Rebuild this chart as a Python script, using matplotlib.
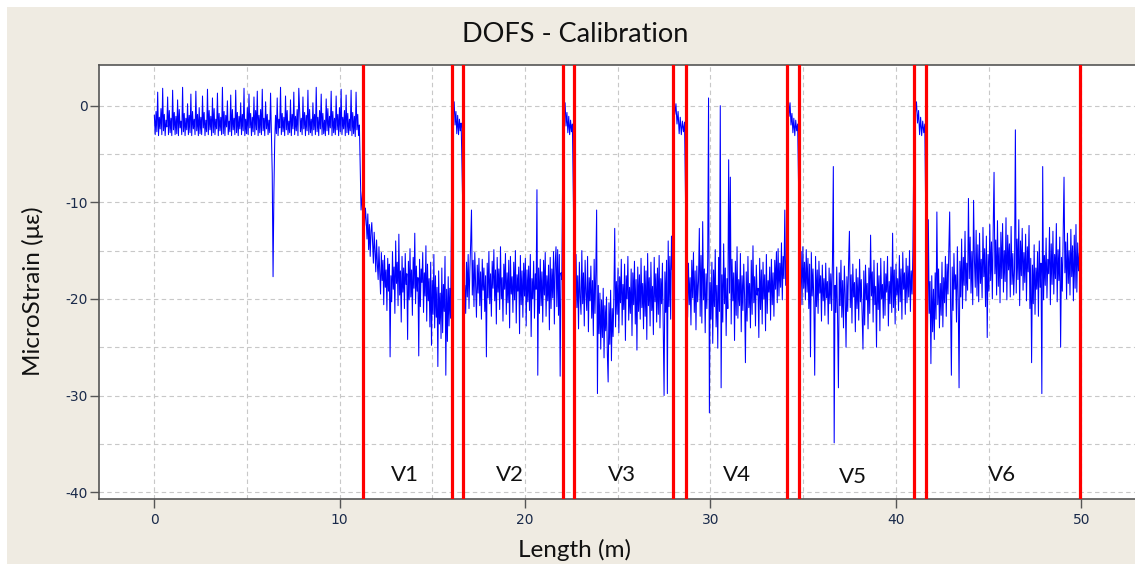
import numpy as np
import matplotlib
matplotlib.use("Agg")
import matplotlib.pyplot as plt
from matplotlib.patches import Rectangle
from matplotlib.ticker import MultipleLocator

plt.rcParams['axes.unicode_minus'] = False

title = "DOFS - Calibration"
x_label = "Length (m)"
y_label = "MicroStrain (με)"

# fibre sections (m): start / end of each measured stretch
seg_start = [0.0, 11.30, 16.08, 16.66, 22.06, 22.66, 28.02, 28.72, 34.19, 34.80, 41.00, 41.66]
seg_end = [11.15, 15.98, 16.55, 21.98, 22.55, 27.94, 28.60, 34.10, 34.70, 40.92, 41.56, 49.90]

strain_base = [
    -1.0, -3.0, -0.6, -2.7, 1.4, -3.1, -1.2, -2.4, -0.3, -3.0, 1.8, -2.6, -0.9, -3.1, -1.5, -2.2, 0.9, -3.0, -0.5, -2.8, -1.3, -3.1, 1.6, -2.5, -0.7,
    -3.0, -1.1, -2.9, 0.6, -3.1, -0.4, -2.3, -1.6, -3.0, 1.9, -2.7, -0.8, -3.1, -1.3, -2.5, 0.2, -3.0, -1.0, -2.8, 1.2, -3.1, -0.6, -2.4, -1.4, -3.0,
    1.5, -2.6, -0.9, -3.1, -0.2, -2.9, -1.2, -3.0, 1.0, -2.3, -0.7, -3.1, -1.5, -2.7, 1.7, -3.0, -0.5, -2.5, -1.1, -3.1, 0.8, -2.8, -0.3, -3.0, -1.4,
    -2.4, 1.3, -3.1, -0.8, -2.6, -1.2, -3.0, 1.9, -2.9, -0.6, -3.1, -1.0, -2.2, 0.5, -3.0, -1.6, -2.7, 1.1, -3.1, -0.4, -2.5, -1.3, -3.0, 1.6, -2.8,
    -0.7, -3.1, -1.1, -2.4, 0.3, -3.0, -0.9, -2.6, 1.8, -3.1, -1.4, -2.9, -0.2, -3.0, 1.2, -2.3, -0.8, -3.1, -1.2, -2.7, 0.9, -3.0, -0.5, -2.5, 1.5,
    -3.1, -1.0, -2.8, -0.4, -3.0, 1.7, -2.6, -1.3, -3.1, 0.4, -2.4, -0.9, -3.0, -1.5, -2.8, 1.3, -3.1, -7.0, -17.7, -9.0, -3.6, -1.0, -2.9, 0.8, -3.1,
    -1.4, -2.3, 1.9, -3.0, -0.8, -2.7, -1.2, -3.1, 1.0, -2.5, -0.5, -3.0, -1.6, -2.8, 0.6, -3.1, -0.9, -2.4, 1.4, -3.0, -1.1, -2.6, -0.4, -3.1, 1.8,
    -0.6, -2.7, -1.3, -3.0, 0.9, -2.4, -0.7, -3.1, -1.0, -2.6, 1.6, -3.0, -0.4, -2.8, -1.4, -3.1, 0.3, -2.5, -0.9, -3.0, 1.9, -2.7, -1.2, -3.1, -0.5,
    -2.4, 1.2, -3.0, -0.8, -2.9, -1.5, -3.1, 0.7, -2.6, -0.3, -3.0, -1.1, -2.3, 1.5, -3.1, -0.6, -2.8, -1.3, -3.0, 1.0, -2.5, -0.9, -3.1, -0.2, -2.7,
    1.7, -3.0, -1.2, -2.4, -0.5, -3.1, 1.1, -2.8, -0.8, -3.0, -1.4, -2.6, 1.6, -3.1, -0.7, -2.9, -1.1, -3.2, 1.4, -2.5, -0.9, -3.1, -2.0, -6.3, -10.8,
]
strain_v1 = [
    -7.0, -12.4, -10.6, -11.9, -13.8, -11.2, -14.9, -12.3, -15.6, -13.0,
    -12.1, -14.2, -16.3, -13.1, -15.0, -17.2, -13.9, -16.4, -18.0, -14.6,
    -17.3, -19.5, -15.2, -18.1, -16.0, -20.6, -15.5, -18.8, -17.0, -21.2,
    -15.8, -19.2, -16.4, -26.0, -17.6, -20.3, -15.1, -19.0, -16.7, -21.5,
    -14.0, -18.4, -16.2, -20.7, -13.3, -19.6, -17.1, -22.4, -15.6, -19.3,
    -16.8, -21.0, -15.3, -18.5, -17.4, -24.2, -16.1, -20.1, -14.8, -19.8,
    -17.0, -21.7, -15.7, -18.9, -13.2, -20.5, -16.6, -19.2, -17.8, -25.9,
    -15.9, -20.8, -16.9, -18.3, -15.2, -21.4, -17.3, -19.7, -14.5, -22.3,
    -16.4, -20.2, -17.9, -22.9, -16.2, -24.8, -18.1, -21.6, -15.4, -23.0,
    -17.6, -21.9, -18.8, -27.0, -17.1, -22.6, -19.4, -24.1, -16.8, -23.5,
    -18.5, -21.3, -15.6, -27.9, -19.0, -24.4, -17.7, -22.8, -18.9, -22.0,
]
strain_s1 = [1.3, -1.2, 0.4, -2.0, -0.6, -2.9, -1.0, -3.0, -1.4, -2.6, -1.8]
strain_v2 = [
    -12.9, -20.4, -18.6, -21.5, -16.2, -19.8, -15.4, -21.0, -17.1, -14.3,
    -10.8, -19.6, -16.0, -20.8, -15.2, -18.7, -21.9, -16.5, -19.4, -15.8,
    -20.7, -17.2, -22.1, -15.9, -19.1, -16.8, -21.3, -17.6, -26.0, -16.3,
    -19.9, -15.1, -20.5, -17.4, -21.8, -16.1, -18.9, -14.9, -20.2, -17.0,
    -22.6, -15.7, -19.3, -16.9, -21.1, -14.6, -20.0, -17.8, -22.3, -16.4,
    -19.0, -15.3, -21.6, -17.3, -20.4, -16.0, -23.0, -15.6, -19.5, -17.7,
    -21.4, -16.2, -20.1, -15.0, -22.5, -17.5, -19.2, -16.7, -23.6, -15.5,
    -20.6, -17.1, -21.9, -16.3, -19.7, -15.8, -22.8, -17.0, -20.3, -16.6,
    -21.2, -15.4, -23.9, -17.9, -20.0, -16.1, -22.0, -17.4, -19.0, -8.7,
    -27.9, -16.8, -21.5, -15.9, -20.7, -17.2, -22.4, -16.0, -19.6, -15.2,
    -21.8, -17.6, -20.2, -16.5, -23.2, -15.7, -21.0, -16.9, -19.9, -15.1,
    -22.6, -16.3, -14.6, -20.8, -14.9, -21.7, -15.4, -28.0, -17.3, -18.0,
]
strain_s2 = [1.2, -1.0, 0.3, -2.1, -0.7, -2.8, -1.1, -3.0, -1.5, -2.7, -1.9]
strain_v3 = [
    -18.0, -22.3, -15.4, -20.9, -17.6, -23.1, -16.2, -19.8, -21.6, -15.0,
    -20.5, -17.3, -22.8, -16.0, -19.4, -21.2, -15.6, -23.4, -17.8, -20.2,
    -16.6, -22.0, -18.1, -23.8, -15.9, -21.5, -17.2, -10.8, -29.8, -18.6,
    -23.6, -19.4, -25.2, -20.1, -24.0, -18.9, -26.1, -20.7, -23.3, -19.8,
    -25.6, -28.6, -20.4, -24.7, -19.1, -26.4, -21.0, -23.9, -19.6, -12.7,
    -22.9, -18.2, -21.6, -16.8, -23.5, -17.7, -20.4, -15.9, -22.7, -18.5,
    -21.1, -16.4, -24.3, -17.6, -20.0, -15.6, -22.2, -18.8, -21.5, -16.9,
    -23.8, -17.3, -20.6, -16.1, -22.6, -18.0, -25.3, -16.7, -21.3, -17.5,
    -22.1, -15.8, -20.9, -18.4, -23.1, -16.6, -21.8, -17.1, -24.2, -15.3,
    -20.7, -17.8, -22.8, -16.2, -21.2, -18.7, -23.7, -15.7, -20.3, -17.4,
    -22.4, -16.8, -21.6, -15.5, -23.0, -17.9, -20.5, -16.3, -22.9, -30.0,
    -17.2, -21.4, -16.0, -29.8, -14.0, -20.8, -15.6, -22.1, -13.5, -17.0,
]
strain_s3 = [1.3, -0.9, 0.2, -1.9, -0.6, -2.9, -1.2, -3.0, -1.6, -2.7, -1.7]
strain_v4 = [
    -19.5, -21.9, -16.3, -20.6, -17.8, -22.7, -16.0, -19.9, -15.2, -21.4,
    -17.1, -23.2, -16.6, -20.3, -18.2, -12.7, -21.8, -15.5, -22.5, -12.0,
    -20.1, -16.9, -23.5, -17.4, -21.0, -15.8, 0.8, -31.8, -18.3, -22.1,
    -16.2, -24.6, -17.0, -20.8, -14.9, -22.9, -18.6, -25.1, -15.7, -21.3,
    0.0, -29.2, -17.5, -22.4, -14.3, -20.5, -16.8, -23.8, -17.9, -21.0,
    -5.6, -19.4, -7.4, -22.6, -15.9, -20.2, -17.3, -24.3, -16.1, -21.7,
    -14.6, -22.0, -18.0, -20.7, -15.3, -23.4, -17.6, -21.2, -16.4, -19.8,
    -26.6, -17.2, -22.3, -15.6, -20.9, -18.4, -23.0, -16.0, -21.6, -14.5,
    -20.4, -17.7, -22.8, -16.5, -19.6, -18.9, -24.0, -15.8, -21.1, -17.0,
    -22.6, -16.2, -20.0, -17.5, -23.3, -15.4, -21.5, -18.1, -19.3, -16.7,
    -22.2, -15.9, -20.6, -17.3, -21.8, -16.0, -19.0, -15.1, -20.4, -14.8,
    -19.7, -16.3, -18.8, -14.2, -20.1, -15.6, -17.9, -10.8, -18.6, -15.9,
]
strain_s4 = [1.3, -1.1, 0.3, -2.0, -0.8, -2.8, -1.3, -3.1, -1.5, -2.6, -1.9]
strain_v5 = [
    -14.2, -19.8, -15.1, -20.6, -14.6, -18.9, -16.2, -20.1, -14.9, -19.3,
    -15.8, -21.0, -16.4, -26.0, -15.2, -19.7, -16.9, -20.4, -27.9, -15.6,
    -20.8, -17.0, -21.5, -16.1, -19.4, -17.6, -22.3, -16.5, -20.2, -17.9,
    -21.7, -16.3, -19.9, -18.2, -22.6, -16.8, -20.5, -17.4, -21.2, -15.9,
    -6.3, -34.9, -18.6, -21.4, -16.7, -22.0, -29.2, -17.3, -20.7, -16.0,
    -21.9, -18.1, -23.0, -16.6, -19.5, -25.0, -17.7, -21.3, -16.2, -13.0,
    -20.9, -17.5, -22.5, -16.4, -19.8, -18.3, -23.4, -16.9, -21.0, -17.8,
    -22.2, -15.9, -20.3, -18.0, -21.8, -25.2, -17.1, -22.7, -16.5, -20.1,
    -18.4, -23.1, -16.8, -21.5, -13.4, -19.7, -17.2, -22.4, -16.0, -20.6,
    -18.7, -25.0, -16.3, -21.1, -17.6, -23.3, -15.8, -20.0, -18.5, -22.0,
    -16.1, -21.7, -17.4, -19.3, -15.6, -22.8, -18.2, -20.5, -16.7, -21.4,
    -13.2, -20.9, -17.0, -22.6, -16.4, -19.6, -17.9, -21.2, -15.5, -20.3,
    -16.9, -22.1, -15.2, -19.0, -17.3, -21.6, -15.8, -20.4, -16.6, -19.8,
    -15.0, -21.3, -17.1, -19.5, -14.8,
]
strain_s5 = [1.4, -0.8, 0.4, -1.8, -0.5, -3.0, -1.2, -3.1, -1.6, -2.8, -1.9]
strain_v6 = [
    -20.1, -23.8, -11.8, -21.5, -18.2, -26.7, -17.6, -23.4, -19.0, -24.2,
    -17.3, -22.1, -11.0, -20.6, -16.9, -23.0, -18.4, -21.7, -16.2, -22.9,
    -17.8, -20.4, -15.6, -21.8, -16.4, -19.5, -14.9, -11.0, -20.3, -27.9,
    -16.7, -21.2, -15.3, -19.0, -17.5, -22.4, -14.6, -20.0, -29.2, -16.1,
    -19.8, -13.8, -21.0, -15.7, -18.6, -13.0, -20.2, -16.3, -19.1, -9.6,
    -17.9, -13.6, -19.4, -15.1, -20.6, -9.8, -16.0, -18.8, -12.9, -19.7,
    -14.4, -20.3, -13.2, -18.4, -15.9, -19.9, -12.6, -17.7, -14.8, -20.8,
    -13.5, -24.0, -15.4, -19.2, -12.3, -18.1, -14.1, -20.0, -12.8, -6.9,
    -17.4, -13.9, -19.6, -11.9, -18.7, -14.7, -20.4, -13.1, -17.9, -12.2,
    -19.3, -15.0, -18.2, -11.6, -20.1, -13.4, -17.0, -14.3, -19.8, -12.5,
    -18.5, -15.3, -19.6, -16.9, -2.5, -19.4, -13.8, -18.0, -11.8, -20.7,
    -14.0, -17.6, -12.7, -19.1, -15.2, -18.3, -13.3, -20.2, -14.6, -17.2,
    -12.4, -21.0, -15.8, -26.6, -16.5, -20.5, -14.4, -21.6, -16.8, -19.0,
    -15.1, -21.8, -14.0, -18.8, -16.3, -29.8, -6.3, -20.1, -15.5, -18.6,
    -13.7, -19.9, -15.9, -17.4, -12.6, -20.6, -14.3, -18.5, -13.0, -19.5,
    -15.4, -17.9, -12.2, -20.3, -14.9, -18.1, -13.6, -25.0, -15.7, -19.2,
    -12.9, -7.4, -17.3, -14.1, -20.0, -13.2, -18.4, -15.0, -19.6, -12.8,
    -17.7, -14.5, -20.2, -13.4, -18.9, -12.3, -19.3, -14.2, -17.1, -15.3,
]
segments = [strain_base, strain_v1, strain_s1, strain_v2, strain_s2, strain_v3,
            strain_s3, strain_v4, strain_s4, strain_v5, strain_s5, strain_v6]

# red section boundaries (m)
boundaries = [11.27, 16.04, 16.63, 22.02, 22.62, 27.98, 28.68, 34.15, 34.77, 40.97, 41.62, 49.93]
zone_names = ["V1", "V2", "V3", "V4", "V5", "V6"]
zone_x = [13.5, 19.2, 25.2, 31.4, 37.7, 45.7]
zone_y = [-38.2, -38.2, -38.2, -38.2, -38.4, -38.2]

length = np.concatenate([np.linspace(s, e, len(v)) for s, e, v in zip(seg_start, seg_end, segments)])
strain = np.concatenate([np.asarray(v, dtype=float) for v in segments])

W, H = 1135, 564
fig = plt.figure(figsize=(W / 100, H / 100), dpi=100, facecolor='white')
fig.patches.append(Rectangle((7 / W, 0), 1, (H - 7) / H, transform=fig.transFigure,
                             facecolor='#EFEBE2', edgecolor='none', zorder=-10))

left, right, top, bottom = 99.3, 1135, 65, 499
ax = fig.add_axes([left / W, (H - bottom) / H, (right - left) / W, (bottom - top) / H])
ax.set_facecolor('white')
ax.set_xlim(-2.97, 52.9)
ax.set_ylim(-40.71, 4.21)

ax.plot(length, strain, color='#0000FF', linewidth=0.75, zorder=2)
for b in boundaries:
    ax.axvline(b, color='#FF0000', linewidth=2.3, zorder=3)
for name, zx, zy in zip(zone_names, zone_x, zone_y):
    ax.text(zx, zy, name, ha='center', va='center', fontsize=16, family='Lato', color='#111111', zorder=4)

ax.xaxis.set_major_locator(MultipleLocator(10))
ax.xaxis.set_minor_locator(MultipleLocator(5))
ax.yaxis.set_major_locator(MultipleLocator(10))
ax.yaxis.set_minor_locator(MultipleLocator(5))
ax.set_axisbelow(True)
ax.grid(which='both', color='#C8C8C8', linestyle=(0, (4, 3)), linewidth=0.8)
ax.tick_params(which='major', direction='out', length=6.5, width=1, color='#555555',
               labelsize=10, labelcolor='#1A2A4A')
ax.tick_params(axis='x', which='major', pad=3.5)
ax.tick_params(axis='y', which='major', pad=1.5)
ax.tick_params(which='minor', length=0)
ax.spines['right'].set_visible(False)
for s in ['top', 'left', 'bottom']:
    ax.spines[s].set_color('#555555')
    ax.spines[s].set_linewidth(1.2)

fig.text(575 / W, 1 - 35 / H, title, ha='center', va='center', fontsize=19.5, family='Lato', color='#111111')
fig.text(574 / W, 1 - 550 / H, x_label, ha='center', va='center', fontsize=17.5, family='Lato', color='#111111')
fig.text(33 / W, 1 - 291 / H, y_label, ha='center', va='center', rotation=90, fontsize=17.5,
         family='Lato', color='#111111')

fig.savefig('out.png', dpi=100, facecolor=fig.get_facecolor())
